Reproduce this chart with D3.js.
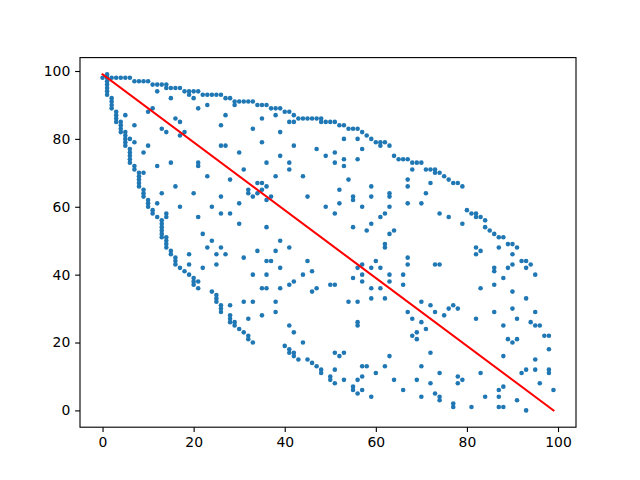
<!DOCTYPE html>
<html>
<head>
<meta charset="utf-8">
<script src="https://cdn.jsdelivr.net/npm/d3@7"></script>
<style>
html,body{margin:0;padding:0;background:#fff;}
svg{display:block;}
</style>
</head>
<body>
<div id="chart"></div>
<script>
// y values of the scatter points, grouped by their integer x value (index = x)
const yByX = [
  [98],
  [99,98,97,96,95,94,93],
  [98,92,91,90,89],
  [98,88,87,86,85],
  [98,85,84,83,82],
  [98,87,82,81,80,79,78],
  [98,80,77,76,75,74,73],
  [97,84,79,72,71],
  [97,70,69,68,67,66],
  [97,76,70,65,64,63],
  [97,88,78,62,61,60],
  [96,89,59,58],
  [96,94,72,61,57],
  [96,83,64,56,55,54,53,52,51],
  [96,95,82,58,57,51,50,49,48],
  [95,92,73,47,46],
  [95,86,66,45,44,43],
  [95,85,81,60,42],
  [94,82,41],
  [94,93,46,43,40],
  [94,92,64,39,38,37],
  [94,89,73,72,57,38,36],
  [93,52,42],
  [93,90,69,48],
  [93,60,50,35],
  [93,46,43,34,33,32],
  [93,84,78,63,58,48,31,30,29],
  [92,87,78,46],
  [92,68,58,31,28,27,26],
  [91,90,26,25],
  [91,76,61,55,24],
  [91,71,45,32,23],
  [91,65,64,27,22,21],
  [91,83,63,40,32,20],
  [90,67,64,47],
  [90,86,79,67,65,36,28],
  [90,73,66,62,54,44,40,36],
  [89,63,44],
  [89,87,69,47,32,29],
  [89,82,75,50,42,36],
  [88,19],
  [88,85,73,71,48,37,25,18,17],
  [87,85,78,38,23,17,16],
  [86,15],
  [86,69,40,20],
  [86,63,44,15],
  [86,41,35,14],
  [86,77,36,13],
  [86,85,12,11],
  [85,75,60],
  [85,37,10,9],
  [85,76,73,58,37,17,12,8],
  [84,65,61,16],
  [84,80,74,72,17,9],
  [83,68,32],
  [83,63,62,54,39,7,6],
  [83,80,74,42,32,26,25,9,5],
  [82,77,60,43,40,38,13,10,6],
  [81,53,13],
  [80,66,63,55,42,36,33,4],
  [79,44,11],
  [79,78,57,42,36],
  [79,58,49,48,33,13],
  [78,64,63,60,52,40,38,16],
  [75,53,9],
  [74],
  [74,40,37,6],
  [74,68,66,61,45,43,29],
  [73,71,27,22],
  [73,23,21,9],
  [73,61,32,26,13,4],
  [71,64,24],
  [71,67,31,17,8],
  [71,70,43,29,5],
  [70,58,43,11,4,3],
  [69,28],
  [68,57,30],
  [67,31,2,1],
  [67,30,10,8],
  [66,55,9],
  [59],
  [58,1],
  [58,57,48,46,27],
  [57,47,36,11],
  [56,54,4],
  [53],
  [52,42,41,37,29],
  [51,48,6,4,1],
  [51,39,25,16,7,1],
  [49,42,21],
  [49,46,43,35,30,20],
  [48,27,21,3],
  [44,11],
  [44,42,33,12,0],
  [43,26],
  [40,29,25,15,12],
  [25,8],
  [22],
  [22,18,12,11],
  [6]
];
// red reference line end points
const lineX = [0, 99];
const lineY = [99, 0];
const xTicks = [0, 20, 40, 60, 80, 100];
const yTicks = [0, 20, 40, 60, 80, 100];

const W = 640, H = 480;
const mLeft = 80, mRight = 576, mTop = 57.6, mBottom = 427.2;
const svg = d3.select("#chart").append("svg").attr("width", W).attr("height", H)
  .style("font-family", "'DejaVu Sans', sans-serif");

const x = d3.scaleLinear().domain([-4.95, 103.95]).range([mLeft, mRight]);
const y = d3.scaleLinear().domain([-4.95, 103.95]).range([mBottom, mTop]);

const points = [];
yByX.forEach((ys, xi) => ys.forEach(v => points.push([xi, v])));

svg.append("g").selectAll("circle").data(points).join("circle")
  .attr("cx", d => x(d[0])).attr("cy", d => y(d[1])).attr("r", 2.3)
  .attr("fill", "#1f77b4");

const line = d3.line().x(d => x(d[0])).y(d => y(d[1]));
svg.append("path").datum(lineX.map((v, i) => [v, lineY[i]]))
  .attr("d", line).attr("fill", "none").attr("stroke", "#ff0000")
  .attr("stroke-width", 1.5 * 100 / 72).attr("stroke-linecap", "square");

const tickLen = 4.86, pad = 4.86, fs = 13.9;
const xAxis = svg.append("g").attr("transform", `translate(0,${mBottom})`)
  .call(d3.axisBottom(x).tickValues(xTicks).tickSize(tickLen).tickPadding(pad).tickSizeOuter(0));
const yAxis = svg.append("g").attr("transform", `translate(${mLeft},0)`)
  .call(d3.axisLeft(y).tickValues(yTicks).tickSize(tickLen).tickPadding(pad).tickSizeOuter(0));
[xAxis, yAxis].forEach(g => {
  g.select(".domain").remove();
  g.selectAll("line").attr("stroke", "#000").attr("stroke-width", 0.8 * 100 / 72);
  g.selectAll("text").attr("fill", "#000").style("font-size", fs + "px")
    .style("font-family", "'DejaVu Sans', sans-serif");
});

svg.append("rect").attr("x", mLeft).attr("y", mTop)
  .attr("width", mRight - mLeft).attr("height", mBottom - mTop)
  .attr("fill", "none").attr("stroke", "#000").attr("stroke-width", 0.8 * 100 / 72);
</script>
</body>
</html>
